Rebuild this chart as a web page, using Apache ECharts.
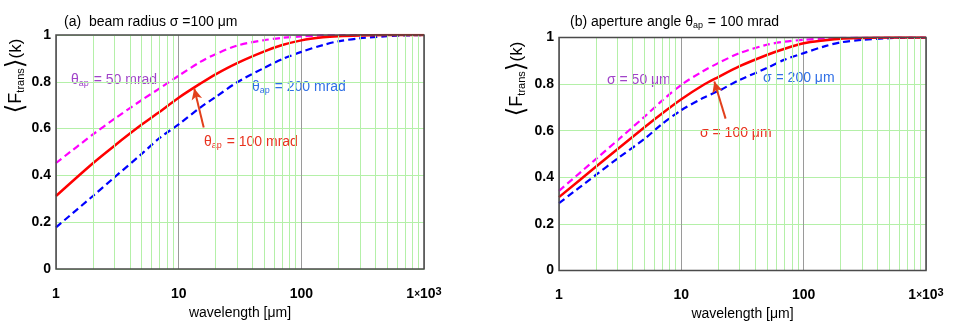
<!DOCTYPE html>
<html>
<head>
<meta charset="utf-8">
<script src="https://cdn.jsdelivr.net/npm/echarts@6/dist/echarts.min.js"></script>
<style>
  html, body { margin: 0; padding: 0; background: #fff; }
  #main { width: 954px; height: 330px; }
</style>
</head>
<body>
<div id="main"></div>
<script>
// wavelength samples [um]
var wavelength = [1, 2, 3, 5, 7, 10, 15, 20, 30, 50, 70, 100, 150, 200, 300, 500, 700, 1000];

// (a) beam radius 100 um, varying aperture angle
var aTheta50  = [0.453, 0.575, 0.642, 0.722, 0.772, 0.826, 0.885, 0.918, 0.955, 0.978, 0.988, 0.994, 0.998, 0.999, 1, 1, 1, 1];
var aTheta100 = [0.312, 0.452, 0.527, 0.617, 0.672, 0.732, 0.792, 0.832, 0.880, 0.930, 0.957, 0.977, 0.990, 0.995, 0.998, 1, 1, 1];
var aTheta200 = [0.178, 0.312, 0.392, 0.492, 0.560, 0.618, 0.690, 0.735, 0.798, 0.860, 0.897, 0.928, 0.957, 0.973, 0.986, 0.995, 0.998, 1];

// (b) aperture angle 100 mrad, varying beam radius
var bSigma50  = [0.342, 0.478, 0.558, 0.660, 0.730, 0.797, 0.855, 0.890, 0.933, 0.969, 0.982, 0.990, 0.996, 0.998, 1, 1, 1, 1];
var bSigma100 = [0.315, 0.445, 0.520, 0.615, 0.675, 0.735, 0.795, 0.830, 0.877, 0.925, 0.952, 0.975, 0.988, 0.995, 0.998, 1, 1, 1];
var bSigma200 = [0.289, 0.410, 0.480, 0.565, 0.630, 0.688, 0.740, 0.770, 0.818, 0.869, 0.905, 0.933, 0.963, 0.979, 0.990, 0.997, 0.999, 1];

// green minor grid positions on the log axis
var minorX = [2, 3, 4, 5, 6, 7, 8, 9, 20, 30, 40, 50, 60, 70, 80, 90, 200, 300, 400, 500, 600, 700, 800, 900];

var FONT = 'Liberation Sans, Arial, Helvetica, sans-serif';
var PURPLE = '#a044c8', BLUE = '#2f6fe6', RED = '#e8321e';

function pairs(ys) {
  return wavelength.map(function (x, i) { return [x, ys[i]]; });
}

var chart = echarts.init(document.getElementById('main'));

// plot boxes
var boxes = [
  { left: 56, top: 35, width: 368, height: 234 },
  { left: 559, top: 37.5, width: 367, height: 233 }
];

function xAxisOf(idx) {
  return {
    gridIndex: idx, type: 'log', logBase: 10, min: 1, max: 1000,
    name: 'wavelength [μm]', nameLocation: 'middle', nameGap: 37,
    nameTextStyle: { fontFamily: FONT, fontSize: 14, color: '#000' },
    axisLine: { show: false }, axisTick: { show: false },
    splitLine: { show: true, lineStyle: { color: '#9a9a9a', width: 1 } },
    axisLabel: {
      margin: 17,
      formatter: function (v) {
        v = Math.round(v);
        if (v === 1000) return '{n|1}{t|×}{n|10}{s|3}';
        return '{n|' + v + '}';
      },
      rich: {
        n: { fontFamily: FONT, fontSize: 14, fontWeight: 'bold', color: '#000', lineHeight: 16 },
        t: { fontFamily: FONT, fontSize: 10, fontWeight: 'bold', color: '#000', lineHeight: 16 },
        s: { fontFamily: FONT, fontSize: 11, fontWeight: 'bold', color: '#000', verticalAlign: 'top', lineHeight: 10 }
      }
    }
  };
}

function yAxisOf(idx) {
  return {
    gridIndex: idx, type: 'value', min: 0, max: 1, interval: 0.2,
    axisLine: { show: false }, axisTick: { show: false },
    splitLine: { show: true, lineStyle: { color: '#b4f0a8', width: 1 } },
    axisLabel: { margin: 5, fontFamily: FONT, fontSize: 14, fontWeight: 'bold', color: '#000' }
  };
}

function minorSeries(idx) {
  return {
    type: 'line', xAxisIndex: idx, yAxisIndex: idx, z: 1, silent: true,
    data: [[1, 0]], showSymbol: false, lineStyle: { opacity: 0 },
    markLine: {
      silent: true, symbol: 'none', label: { show: false },
      lineStyle: { color: '#b4f0a8', width: 1, type: 'solid' },
      data: minorX.map(function (v) { return { xAxis: v }; })
    }
  };
}

function curve(idx, ys, color, dashed, arrow) {
  var s = {
    type: 'line', xAxisIndex: idx, yAxisIndex: idx, z: 3,
    data: pairs(ys), smooth: 0.3, showSymbol: false,
    lineStyle: { color: color, width: dashed ? 2.2 : 2.5, type: dashed ? [7, 4] : 'solid' }
  };
  if (arrow) {
    s.markLine = {
      silent: true, symbol: ['none', 'arrow'], symbolSize: [8, 11],
      label: { show: false },
      lineStyle: { color: '#e2401c', width: 2, type: 'solid' },
      data: [[{ coord: arrow[0] }, { coord: arrow[1] }]]
    };
  }
  return s;
}

var theta = function (rest) { return '{m|θ}{s|ap}{m|' + rest + '}'; };
var labelRich = function (color) {
  return {
    m: { fontFamily: FONT, fontSize: 14, fill: color },
    s: { fontFamily: FONT, fontSize: 9, fill: color, padding: [8, 1, 0, 0] }
  };
};
function txt(x, y, text, color) {
  return {
    type: 'text', x: x, y: y, silent: true,
    style: { text: text, rich: labelRich(color), fontFamily: FONT, fontSize: 14, fill: color, textVerticalAlign: 'middle' }
  };
}
function yName(x, y) {
  return {
    type: 'text', x: x, y: y, rotation: Math.PI / 2, silent: true,
    style: {
      text: '{b|⟨}{f|F}{s|trans}{b|⟩}{k|(k)}',
      textAlign: 'center', textVerticalAlign: 'middle',
      rich: {
        b: { fontFamily: 'DejaVu Sans', fontSize: 25, fill: '#000' },
        f: { fontFamily: FONT, fontSize: 18, fill: '#000' },
        s: { fontFamily: FONT, fontSize: 11, fill: '#000', padding: [10, 0, 0, 0] },
        k: { fontFamily: FONT, fontSize: 17, fill: '#000' }
      }
    }
  };
}
function frame(b) {
  return {
    type: 'rect', z: 100, silent: true,
    shape: { x: b.left, y: b.top, width: b.width, height: b.height },
    style: { fill: 'none', stroke: '#4a4a4a', lineWidth: 1.5 }
  };
}

chart.setOption({
  animation: false,
  backgroundColor: '#fff',
  grid: boxes.map(function (b) {
    return { left: b.left, top: b.top, width: b.width, height: b.height, show: false };
  }),
  xAxis: [xAxisOf(0), xAxisOf(1)],
  yAxis: [yAxisOf(0), yAxisOf(1)],
  series: [
    minorSeries(0),
    curve(0, aTheta50, '#ff00ff', true),
    curve(0, aTheta200, '#0000ff', true),
    curve(0, aTheta100, '#ff0000', false, [[16, 0.605], [13.4, 0.771]]),
    minorSeries(1),
    curve(1, bSigma50, '#ff00ff', true),
    curve(1, bSigma200, '#0000ff', true),
    curve(1, bSigma100, '#ff0000', false, [[23, 0.652], [18.6, 0.811]])
  ],
  graphic: [
    frame(boxes[0]),
    frame(boxes[1]),
    txt(64, 22, '{m|(a)  beam radius σ =100 μm}', '#000'),
    txt(570, 22, '{m|(b) aperture angle θ}{s|ap}{m| = 100 mrad}', '#000'),
    txt(71, 80, theta(' = 50 mrad'), PURPLE),
    txt(252, 87, theta(' = 200 mrad'), BLUE),
    txt(204, 142, theta(' = 100 mrad'), RED),
    txt(607, 80, '{m|σ = 50 μm}', PURPLE),
    txt(763, 78, '{m|σ = 200 μm}', BLUE),
    txt(700, 133, '{m|σ = 100 μm}', RED),
    yName(16, 76),
    yName(517, 79)
  ]
});
</script>
</body>
</html>
